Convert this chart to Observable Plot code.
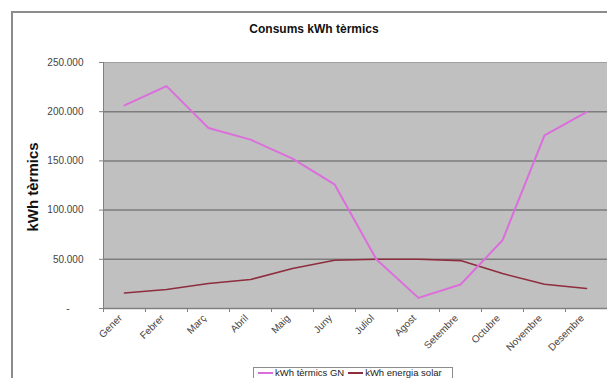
<!DOCTYPE html>
<html>
<head>
<meta charset="utf-8">
<script src="https://cdn.jsdelivr.net/npm/d3@7"></script>
<script src="https://cdn.jsdelivr.net/npm/@observablehq/plot@0.6"></script>
<style>
  html, body { margin: 0; padding: 0; background: #fff; }
  #wrap { position: relative; width: 607px; height: 378px; overflow: hidden; font-family: "Liberation Sans", Arial, sans-serif; }
  #frame { position: absolute; left: 11px; top: 11px; width: 700px; height: 500px; border: 2px solid #8c8c8c; box-sizing: border-box; }
  #chart { position: absolute; left: 0; top: 0; }
  #title { position: absolute; left: 0; width: 628px; top: 22px; text-align: center; font-weight: bold; font-size: 12px; color: #111; }
  #ylabel { position: absolute; left: 32px; top: 187px; transform: translate(-50%, -50%) rotate(-90deg); font-weight: bold; font-size: 15px; color: #111; white-space: nowrap; }
  #legend { position: absolute; left: 253px; top: 367px; width: 200px; height: 20px; border: 1px solid #8c8c8c; background: #fff; font-size: 9.5px; color: #222; white-space: nowrap; box-sizing: border-box; padding-left: 4px; line-height: 10px; }
  #legend .sw { display: inline-block; width: 15px; height: 2px; vertical-align: middle; margin-right: 2px; }
</style>
</head>
<body>
<div id="wrap">
  <div id="frame"></div>
  <div id="chart"></div>
  <div id="title">Consums kWh tèrmics</div>
  <div id="ylabel">kWh tèrmics</div>
  <div id="legend"></div>
</div>
<script>
const months = ["Gener", "Febrer", "Març", "Abril", "Maig", "Juny", "Juliol", "Agost", "Setembre", "Octubre", "Novembre", "Desembre"];
const gnValues = [206400, 226000, 183400, 171600, 152300, 126200, 49700, 10800, 24400, 69300, 176000, 199600];
const solarValues = [15800, 19300, 25400, 29400, 40600, 49000, 50000, 50000, 48700, 35500, 24700, 20300];
const yTicks = [0, 50000, 100000, 150000, 200000, 250000];
const seriesNames = ["kWh tèrmics GN", "kWh energia solar"];
const seriesColors = ["#dc6edc", "#8e2d3e"];

const locale = d3.formatLocale({decimal: ",", thousands: ".", grouping: [3], currency: ["", "€"]});
const fmt = locale.format(",");
const yFormat = d => d === 0 ? "-\u00a0\u00a0\u00a0\u00a0\u00a0" : fmt(d);

const idx = months.map((d, i) => i);
const bounds = d3.range(months.length + 1).map(i => i - 0.5);
const gnData = months.map((m, i) => ({i, v: gnValues[i]}));
const solarData = months.map((m, i) => ({i, v: solarValues[i]}));

const chart = Plot.plot({
  width: 607,
  height: 378,
  marginLeft: 103,
  marginRight: 0,
  marginTop: 62,
  marginBottom: 70,
  style: {fontFamily: "'Liberation Sans', Arial, sans-serif", fontSize: "10px", color: "#444", background: "transparent"},
  x: {domain: [-0.5, months.length - 0.5], axis: null},
  y: {domain: [0, 250000], axis: null},
  marks: [
    Plot.frame({fill: "#c0c0c0", stroke: "#a0a0a0"}),
    Plot.gridY(yTicks.filter(d => d > 0 && d < 250000), {stroke: "#7d7d7d", strokeOpacity: 1, strokeWidth: 1.5}),
    Plot.ruleY([0], {stroke: "#808080", strokeWidth: 1.5}),
    Plot.ruleX([-0.5], {stroke: "#808080", strokeWidth: 1}),
    Plot.axisY(yTicks, {tickFormat: yFormat, tickSize: 4, tickPadding: 16, stroke: "#808080", fill: "#444", fontSize: 10, label: null}),
    Plot.axisX(bounds, {tickFormat: () => "", tickSize: 4, stroke: "#808080", label: null}),
    Plot.axisX(idx, {tickFormat: i => months[i], tickSize: 0, tickPadding: 8, tickRotate: -45, fill: "#444", fontSize: 10, dx: -4, label: null}),
    Plot.lineY(solarData, {x: "i", y: "v", stroke: seriesColors[1], strokeWidth: 1.6}),
    Plot.lineY(gnData, {x: "i", y: "v", stroke: seriesColors[0], strokeWidth: 2})
  ]
});
document.getElementById("chart").appendChild(chart);

const legend = document.getElementById("legend");
seriesNames.forEach((name, k) => {
  const sw = document.createElement("span");
  sw.className = "sw";
  sw.style.background = seriesColors[k];
  const t = document.createElement("span");
  t.textContent = name;
  t.style.marginRight = "4px";
  legend.appendChild(sw);
  legend.appendChild(t);
});
</script>
</body>
</html>
